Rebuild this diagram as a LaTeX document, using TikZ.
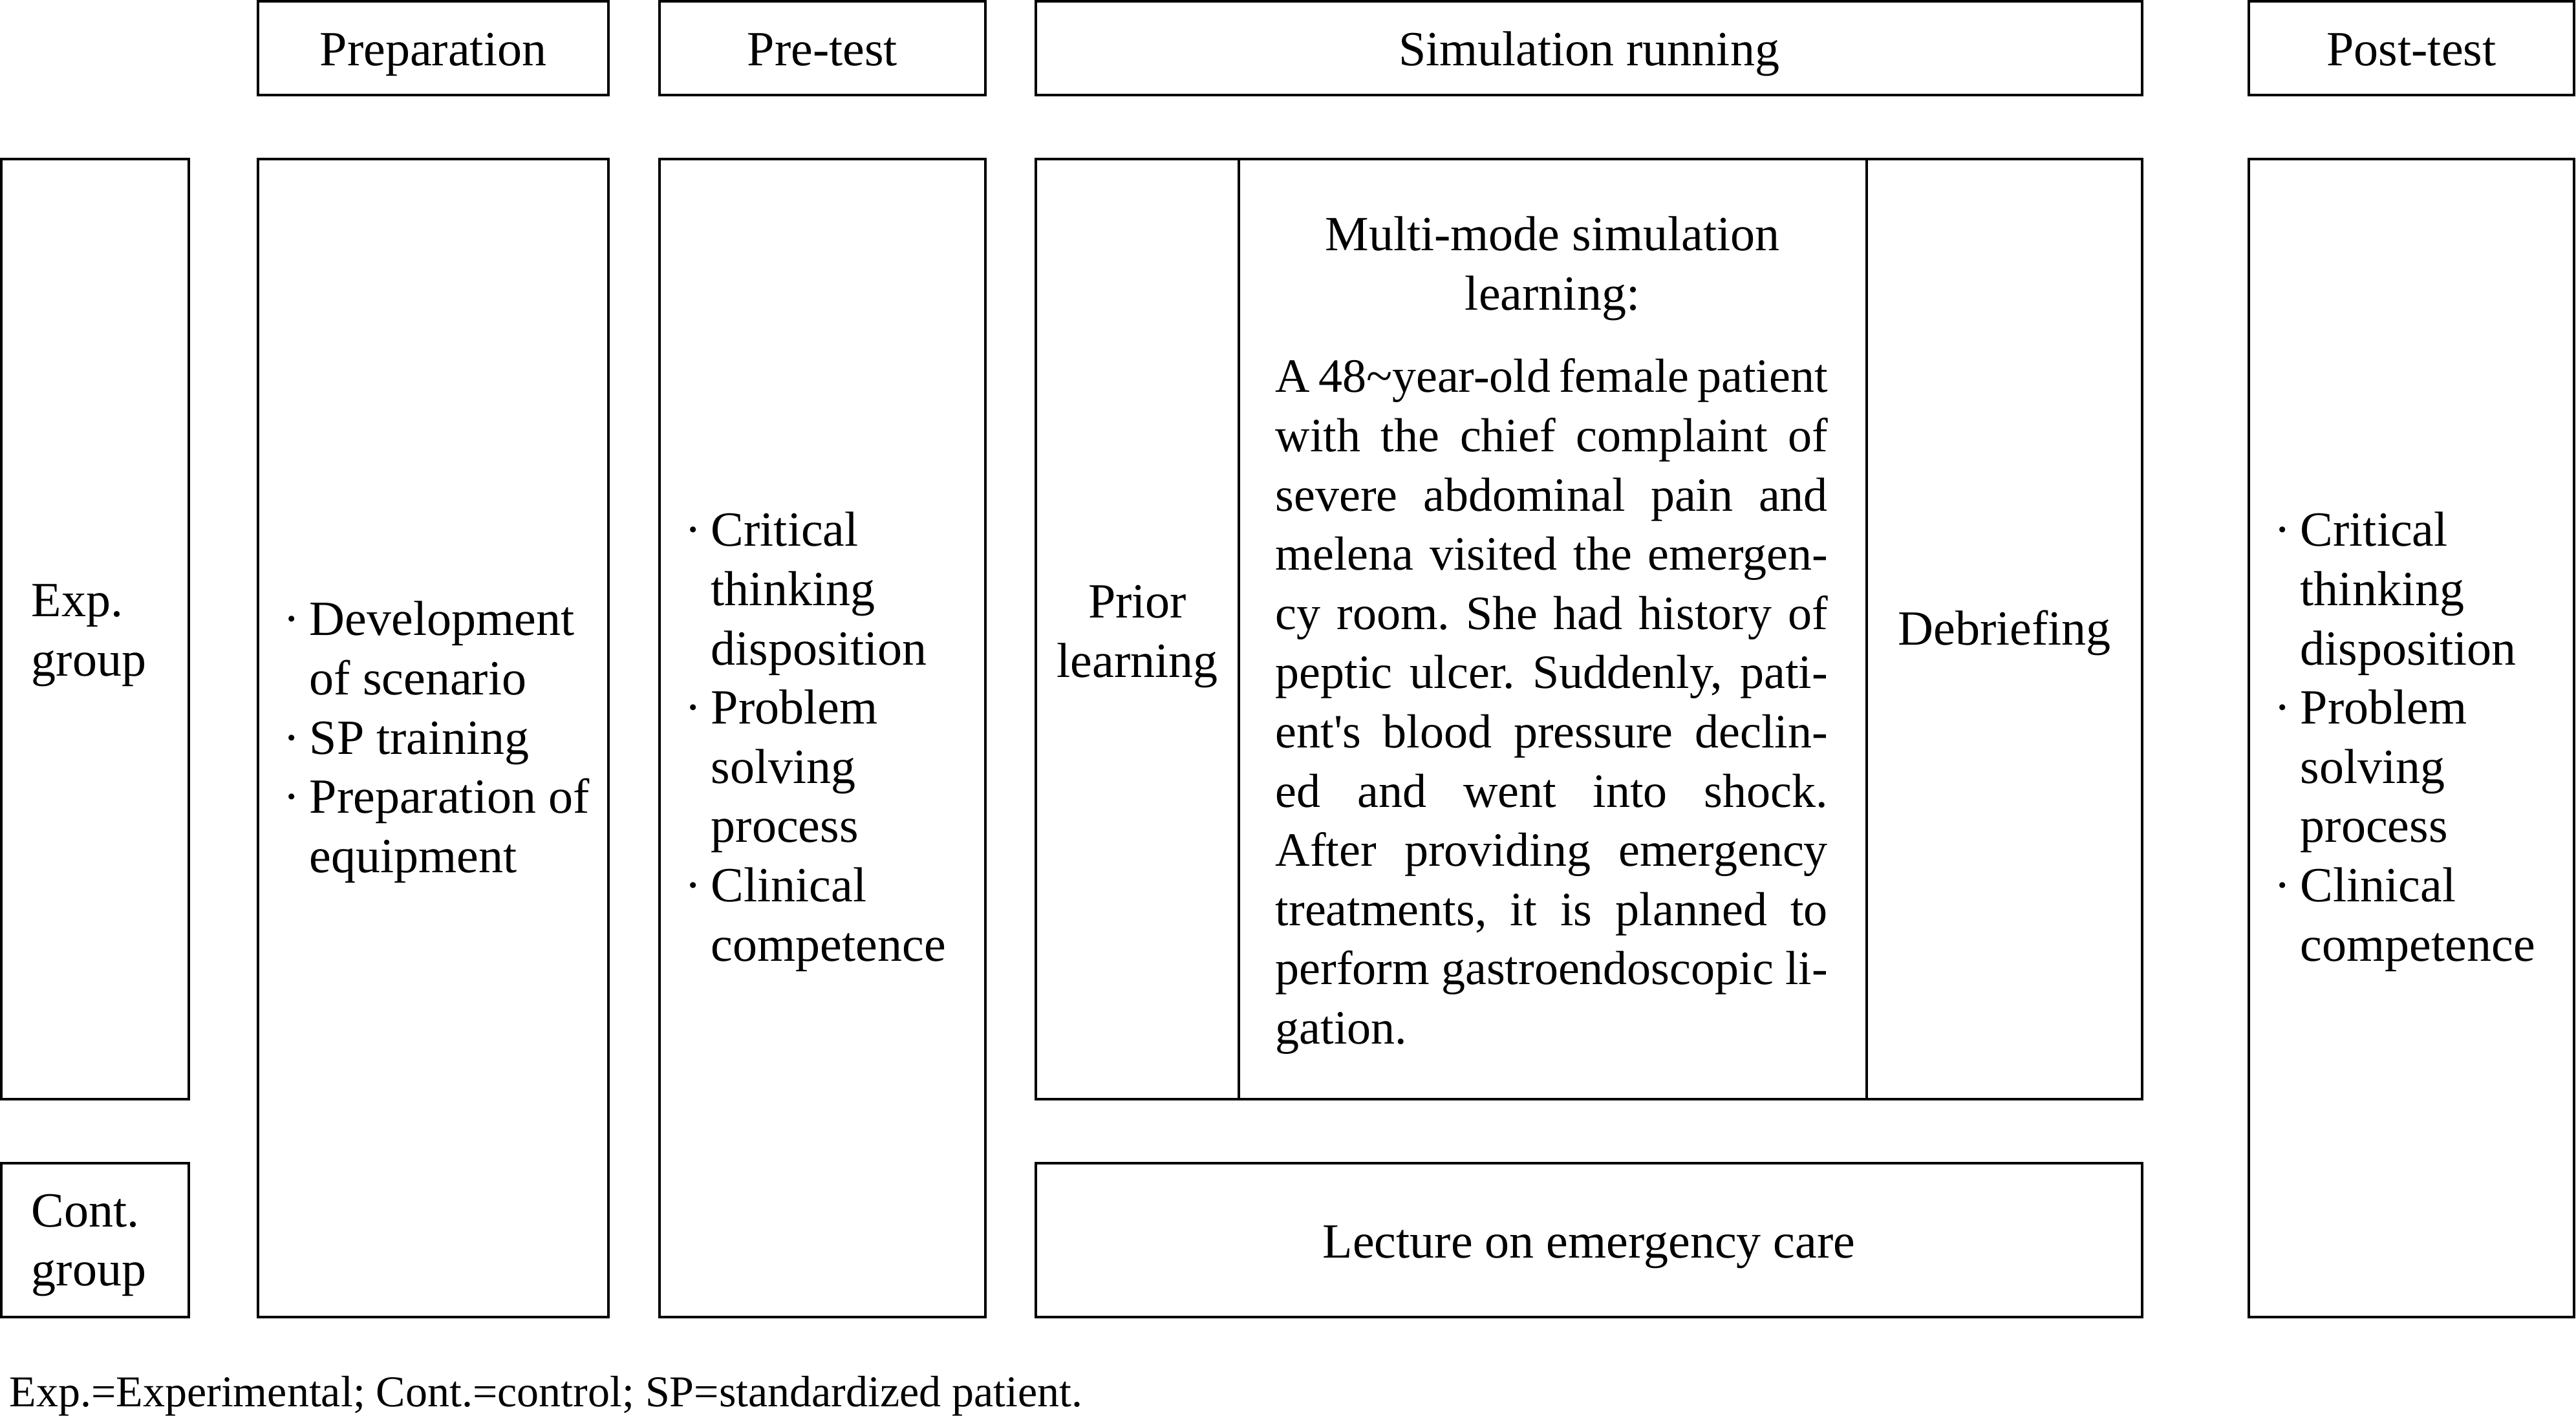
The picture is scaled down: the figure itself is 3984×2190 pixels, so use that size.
\documentclass[tikz,border=0pt]{standalone}
\usepackage{fontspec}
\setmainfont{Liberation Serif}[Ligatures=TeXOff]
\frenchspacing
\newdimen\bodyw \bodyw=213.5pt
\newcommand\stack[1]{\vtop{\baselineskip=22.9pt\lineskiplimit=-\maxdimen\lineskip=0pt\relax #1}}
\newcommand\lin[1]{\hbox{#1}}
\newcommand\cln[1]{\hbox to 0pt{\hss#1\hss}}
\newcommand\jln[1]{\hbox to \bodyw{#1}}
\newcommand\bitem[1]{\hbox{\makebox[10pt][l]{·}#1}}
\newcommand\bcont[1]{\hbox{\hskip10pt #1}}
\begin{document}
\begin{tikzpicture}[x=0.25pt,y=-0.25pt,
  box/.style={draw=black,line width=0.8pt},
  txt/.style={inner sep=0pt,font=\fontsize{19}{22.9}\selectfont\frenchspacing},
  bodytxt/.style={inner sep=0pt,font=\fontsize{18.5}{22.9}\selectfont\frenchspacing},
  notetxt/.style={inner sep=0pt,font=\fontsize{17}{20}\selectfont\frenchspacing}]
\useasboundingbox (0,0) rectangle (3984,2190);
% header boxes
\draw[box] (399,2) rectangle (941,147);
\draw[box] (1020,2) rectangle (1524,147);
\draw[box] (1602,2) rectangle (3313,147);
\draw[box] (3478,2) rectangle (3981,147);
% main boxes
\draw[box] (2,246) rectangle (292,1700);
\draw[box] (2,1799) rectangle (292,2037);
\draw[box] (399,246) rectangle (941,2037);
\draw[box] (1020,246) rectangle (1524,2037);
\draw[box] (1602,246) rectangle (3313,1700);
\draw[box] (1916,246) -- (1916,1700);
\draw[box] (2887,246) -- (2887,1700);
\draw[box] (1602,1799) rectangle (3313,2037);
\draw[box] (3478,246) rectangle (3981,2037);
% header texts
\node[txt,anchor=base] (hprep) at (670,102) {Preparation};
\node[txt,anchor=base] (hpre) at (1272,102) {Pre-test};
\node[txt,anchor=base] (hsim) at (2457.5,102) {Simulation running};
\node[txt,anchor=base] (hpost) at (3729.5,102) {Post-test};
% group labels
\node[txt,anchor=base west] (exp) at (48,954) {\stack{\lin{Exp.}\lin{group}}};
\node[txt,anchor=base west] (cont) at (48,1897) {\stack{\lin{Cont.}\lin{group}}};
% preparation list
\node[txt,anchor=base west] (prep) at (438,983) {\stack{%
  \bitem{Development}\bcont{of scenario}%
  \bitem{SP training}%
  \bitem{Preparation of}\bcont{equipment}}};
% pre-test list
\node[txt,anchor=base west] (pre) at (1059,845) {\stack{%
  \bitem{Critical}\bcont{thinking}\bcont{disposition}%
  \bitem{Problem}\bcont{solving}\bcont{process}%
  \bitem{Clinical}\bcont{competence}}};
% post-test list
\node[txt,anchor=base west] (post) at (3517,845) {\stack{%
  \bitem{Critical}\bcont{thinking}\bcont{disposition}%
  \bitem{Problem}\bcont{solving}\bcont{process}%
  \bitem{Clinical}\bcont{competence}}};
% simulation running
\node[txt,anchor=base] (prior) at (1759,956) {\stack{\cln{Prior}\cln{learning}}};
\node[txt,anchor=base] (mmtitle) at (2401,388) {\stack{\cln{Multi-mode simulation}\cln{learning:}}};
\node[bodytxt,anchor=base west] (mmbody) at (1972,607) {\stack{%
  \jln{A 48\textasciitilde year-old female patient}%
  \jln{with the chief complaint of}%
  \jln{severe abdominal pain and}%
  \jln{melena visited the emergen-}%
  \jln{cy room. She had history of}%
  \jln{peptic ulcer. Suddenly, pati-}%
  \jln{ent's blood pressure declin-}%
  \jln{ed and went into shock.}%
  \jln{After providing emergency}%
  \jln{treatments, it is planned to}%
  \jln{perform gastroendoscopic li-}%
  \lin{gation.}}};
\node[txt,anchor=base] (debrief) at (3100,998) {Debriefing};
\node[txt,anchor=base] (lecture) at (2457.5,1945) {Lecture on emergency care};
% footnote
\node[notetxt,anchor=base west] (note) at (14,2175) {Exp.=Experimental; Cont.=control; SP=standardized patient.};
\end{tikzpicture}
\end{document}
